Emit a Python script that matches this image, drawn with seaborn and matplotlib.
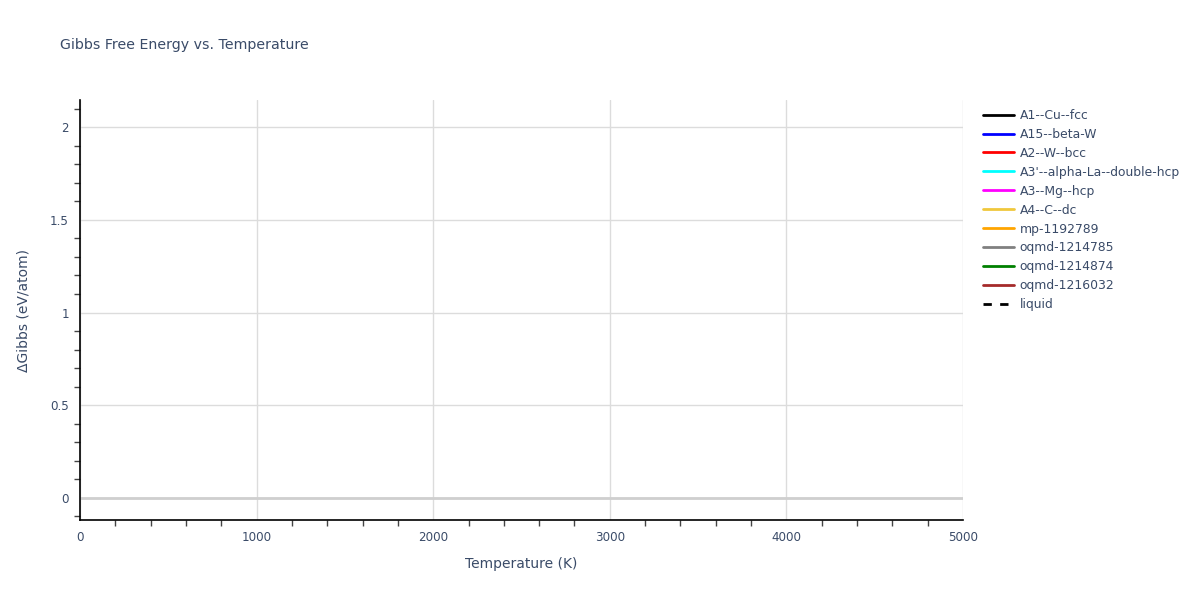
import matplotlib
matplotlib.use("Agg")
import matplotlib.pyplot as plt
import seaborn as sns
import numpy as np
import pandas as pd
from matplotlib.ticker import MultipleLocator

# Data: series names and colours (no data points visible in the reference)
series_names = ["A1--Cu--fcc", "A15--beta-W", "A2--W--bcc", "A3'--alpha-La--double-hcp",
                "A3--Mg--hcp", "A4--C--dc", "mp-1192789", "oqmd-1214785",
                "oqmd-1214874", "oqmd-1216032", "liquid"]
series_colors = ["black", "blue", "red", "cyan", "magenta", "#f0c83c", "orange",
                 "gray", "green", "brown", "black"]
series_dashed = [False] * 10 + [True]
temperature = []  # empty: no curves drawn in the reference
gibbs = []

title = "Gibbs Free Energy vs. Temperature"
x_label = "Temperature (K)"
y_label = "ΔGibbs (eV/atom)"

sns.set_theme(style="white")
plt.rcParams["font.family"] = ["DejaVu Sans"]
text_color = "#3a4b68"

fig = plt.figure(figsize=(12, 6), dpi=100)
ax = fig.add_axes([80 / 1200, 1 - 520 / 600, (963 - 80) / 1200, 420 / 600])

for name, color, dashed in zip(series_names, series_colors, series_dashed):
    df = pd.DataFrame({"T": pd.Series(temperature, dtype=float),
                       "G": pd.Series(gibbs, dtype=float)})
    sns.lineplot(data=df, x="T", y="G", ax=ax, color=color)
    ax.plot(df["T"], df["G"], color=color, lw=2,
            ls=(0, (3, 3)) if dashed else "-", label=name)

ax.set_xlim(0, 5000)
ax.set_ylim(-0.119, 2.146)

ax.xaxis.set_major_locator(MultipleLocator(1000))
ax.xaxis.set_minor_locator(MultipleLocator(200))
ax.yaxis.set_major_locator(MultipleLocator(0.5))
ax.yaxis.set_minor_locator(MultipleLocator(0.1))

ax.grid(True, which="major", color="#dcdcdc", lw=1)
ax.axhline(0, color="#cfcfcf", lw=2, zorder=1)

for s in ["top", "right"]:
    ax.spines[s].set_visible(False)
for s in ["left", "bottom"]:
    ax.spines[s].set_color("black")
    ax.spines[s].set_linewidth(1.2)

ax.tick_params(axis="both", which="major", length=0, pad=8, labelsize=8.6,
               labelcolor=text_color)
ax.tick_params(axis="both", which="minor", length=4, width=1, color="#444444",
               direction="out")
ax.tick_params(axis="x", which="minor", bottom=True)
ax.tick_params(axis="y", which="minor", left=True)
ax.yaxis.set_major_formatter(matplotlib.ticker.FuncFormatter(lambda v, p: f"{v:g}"))

ax.set_xlabel(x_label, fontsize=10, color=text_color, labelpad=9)
ax.set_ylabel(y_label, fontsize=10, color=text_color, labelpad=14)
fig.text(60 / 1200, 1 - 45 / 600, title, fontsize=10.2, color=text_color,
         va="center", ha="left")

leg = ax.legend(loc="upper left", bbox_to_anchor=(978 / 1200, 1 - 104 / 600),
                bbox_transform=fig.transFigure, frameon=False, fontsize=8.9,
                handlelength=2.5, handletextpad=0.45, labelspacing=0.48,
                borderaxespad=0)
for t in leg.get_texts():
    t.set_color(text_color)

fig.savefig("out.png", dpi=100)
